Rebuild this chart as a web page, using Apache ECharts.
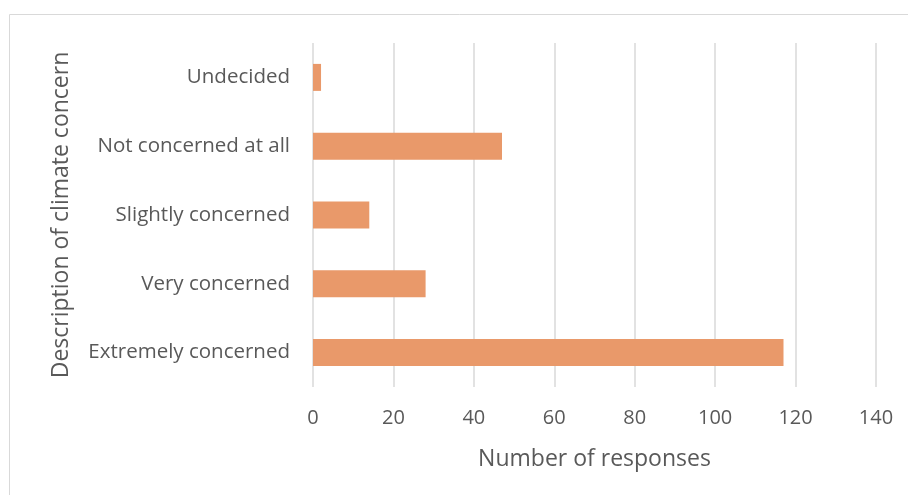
<!DOCTYPE html>
<html>
<head>
<meta charset="utf-8">
<script src="https://cdn.jsdelivr.net/npm/echarts@6/dist/echarts.min.js"></script>
<style>
html,body{margin:0;padding:0;background:#fff;}
#chart{width:908px;height:495px;}
</style>
</head>
<body>
<div id="chart"></div>
<script>
const categories = ["Extremely concerned", "Very concerned", "Slightly concerned", "Not concerned at all", "Undecided"];
const responses = [117, 28, 14, 47, 2];
const xTitle = "Number of responses";
const yTitle = "Description of climate concern";

const chart = echarts.init(document.getElementById('chart'));
const font = "'Open Sans', 'Liberation Sans', sans-serif";
chart.setOption({
  animation: false,
  textStyle: { fontFamily: font },
  graphic: [{
    type: 'rect',
    shape: { x: 9.5, y: 14.5, width: 1200, height: 1200 },
    style: { fill: 'none', stroke: '#d9d9d9', lineWidth: 1 },
    silent: true
  }],
  grid: { left: 313, right: 32, top: 43, bottom: 108 },
  xAxis: {
    type: 'value',
    min: 0, max: 140, interval: 20,
    name: xTitle,
    nameLocation: 'middle',
    nameGap: 61,
    nameTextStyle: { fontSize: 23, color: '#595959', fontFamily: font },
    axisLine: { show: false },
    axisTick: { show: false },
    axisLabel: { fontSize: 20, color: '#595959', margin: 21, fontFamily: font },
    splitLine: { show: true, lineStyle: { color: '#d9d9d9', width: 1.5 } }
  },
  yAxis: {
    type: 'category',
    data: categories,
    name: yTitle,
    nameLocation: 'middle',
    nameGap: 240,
    nameRotate: 90,
    nameTextStyle: { fontSize: 23, color: '#595959', fontFamily: font },
    axisLine: { show: false },
    axisTick: { show: false },
    axisLabel: { fontSize: 20.5, color: '#595959', margin: 23, fontFamily: font },
    splitLine: { show: false }
  },
  series: [{
    type: 'bar',
    data: responses,
    barWidth: 27,
    itemStyle: { color: '#E9996A' }
  }]
});
</script>
</body>
</html>
